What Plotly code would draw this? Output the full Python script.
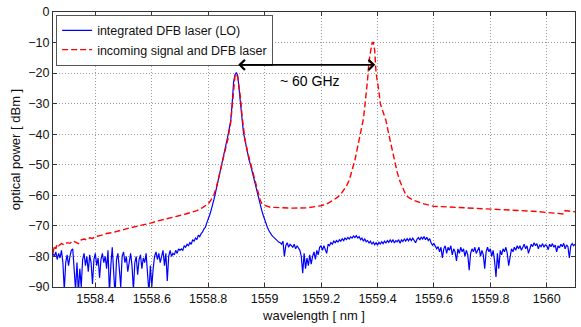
import numpy as np
import plotly.graph_objects as go

# ---------------- data ----------------
# Blue trace: integrated DFB laser (LO), sampled on a 0.005 nm grid from 1558.25 nm
blue_start_nm = 1558.25
blue_step_nm = 0.005
blue_dbm = [
    # 1558.250 - 1558.600
    -79, -80, -78.5, -81, -79, -80.5, -78, -82, -91, -82,
    -79.5, -83, -80, -78, -77.5, -86, -91, -82, -92, -84,
    -90, -81, -79, -83, -80, -85, -79.5, -82, -89, -81,
    -79, -83, -80.5, -87, -81, -79, -82, -80, -84, -78,
    -92, -83, -77, -85, -93, -81, -79, -84, -90, -80,
    -78.5, -82, -80, -85, -81, -79, -83, -91, -82, -80,
    -86, -81, -79.5, -84, -80.5, -82, -79, -85, -92, -83,
    -90,
    # 1558.605 - 1558.700
    -84, -80, -78.5, -81, -79, -82, -80, -78, -83, -79,
    -88, -80, -78, -80, -79, -79.5, -78, -79, -77.5, -78,
    # 1558.705 - 1558.895
    -77.5, -78, -76.5, -77, -76, -76.5, -75.5, -76, -74.5, -75,
    -74, -74.5, -73, -73.5, -72.5, -72, -71, -70.5, -69, -68,
    -66.5, -65, -63.5, -61.5, -59.5, -57.5, -55, -52.5, -50.5, -48.5,
    -47, -45.5, -43.5, -40.5, -38, -35.5, -30, -23, -20.5,
    # 1558.900 - 1559.050
    -19.8, -21, -25, -29, -35, -39.5, -42, -44, -46.5, -48.5,
    -50, -52, -53.5, -55, -57, -59.5, -61.5, -63, -65, -66.5,
    -68, -69.5, -70.5, -71.5, -72.5, -73, -73.5, -74, -74.5, -75,
    -75.3,
    # 1559.055 - 1559.245
    -75.5, -76, -75, -80, -76.5, -75.5, -77, -76, -76.5, -77,
    -76, -77.5, -76.5, -77.5, -78, -80, -85.5, -79, -84, -80.5,
    -83, -79.5, -82.5, -80, -78.5, -81, -78, -79.5, -77, -76.5,
    -78, -76.5, -77.5, -79, -76, -76.5, -75.5, -76, -75,
    # 1559.250 - 1559.600
    -75.5, -74.8, -75.3, -74.5, -75, -74.2, -74.8, -74, -74.5, -73.8,
    -74.3, -73.6, -74, -73.3, -73.8, -73.2, -74, -73.5, -74.5, -74,
    -75, -74.3, -75.2, -74.8, -75.6, -75, -76, -75.3, -76.2, -75.5,
    -76.3, -75.4, -75.9, -75.2, -75.8, -75, -75.6, -74.8, -75.4, -74.6,
    -75.3, -74.5, -75.6, -74.8, -75.2, -74.5, -75.7, -74.6, -75.1, -74.3,
    -75, -74.2, -74.9, -74.1, -74.8, -74, -74.7, -75.5, -74.4, -73.8,
    -74.6, -73.6, -74.3, -73.5, -74.5, -73.7, -74.8, -74.2, -75.5, -76.3,
    -75.8,
    # 1559.605 - 1559.900
    -76.5, -77.5, -76.8, -78.5, -77, -80.5, -77.5, -76.5, -79, -77,
    -78, -76.5, -79.5, -77.5, -78.5, -81.5, -77.5, -79, -77, -78.5,
    -77.5, -80, -78, -79.5, -84.5, -79, -77.5, -78.5, -77, -79,
    -78, -77, -80, -78, -79.5, -84, -78.5, -77, -78.5, -77.5,
    -80, -78, -81.5, -86.7, -79, -84, -78, -79.5, -77.5, -78.5,
    -77, -79, -83, -79.5, -77.5, -78.5, -77, -78, -76.5, -77.5,
    # 1559.905 - 1560.100
    -76.5, -78, -77, -76, -77.5, -76.5, -79, -77, -76, -76.8,
    -75.5, -76.5, -75.8, -77.5, -76.3, -76.8, -75.8, -77, -76.2, -76.5,
    -77.8, -76, -76.8, -75.8, -77, -76.3, -78.5, -76.5, -77.2, -76,
    -76.8, -75.7, -77.5, -76.2, -76.8, -80.5, -76.5, -75.8, -76.5, -76,
]

# Red trace: incoming signal and DFB laser (wavelength / power pairs)
red_nm = [
    1558.250, 1558.255, 1558.260, 1558.265, 1558.270, 1558.280, 1558.290, 1558.300,
    1558.310, 1558.320, 1558.330, 1558.340, 1558.350, 1558.360, 1558.370, 1558.380,
    1558.390, 1558.400, 1558.420, 1558.440, 1558.460, 1558.480, 1558.500, 1558.520,
    1558.540, 1558.560, 1558.580, 1558.600, 1558.620, 1558.640, 1558.660, 1558.680,
    1558.700, 1558.720, 1558.740, 1558.760, 1558.780, 1558.800, 1558.810, 1558.820,
    1558.830, 1558.840, 1558.850, 1558.860, 1558.870, 1558.880, 1558.885, 1558.890,
    1558.895, 1558.900, 1558.905, 1558.910, 1558.915, 1558.920, 1558.925, 1558.930,
    1558.940, 1558.950, 1558.960, 1558.970, 1558.980, 1558.985, 1558.990, 1559.000,
    1559.020, 1559.050, 1559.100, 1559.150, 1559.180, 1559.200, 1559.220, 1559.240,
    1559.260, 1559.270, 1559.280, 1559.290, 1559.300, 1559.310, 1559.320, 1559.330,
    1559.340, 1559.350, 1559.355, 1559.360, 1559.365, 1559.370, 1559.375, 1559.380,
    1559.385, 1559.390, 1559.395, 1559.400, 1559.405, 1559.410, 1559.420, 1559.430,
    1559.440, 1559.450, 1559.460, 1559.470, 1559.480, 1559.490, 1559.500, 1559.510,
    1559.530, 1559.560, 1559.600, 1559.650, 1559.700, 1559.750, 1559.800, 1559.850,
    1559.900, 1559.950, 1560.000, 1560.030, 1560.050, 1560.060, 1560.065, 1560.080,
    1560.100,
]
red_dbm = [
    -79, -76.5, -77.5, -76, -76.5, -75.8, -76.2, -75.5,
    -75.7, -74.9, -75.3, -75.8, -74.6, -74.3, -74.6, -73.9,
    -74.1, -73.5, -73.1, -72.5, -72.2, -71.6, -71.2, -70.7,
    -70.3, -69.9, -69.4, -69, -68.4, -68, -67.5, -67.1,
    -66.6, -66.1, -65.6, -65, -64, -62.8, -61.5, -60,
    -57, -53, -49, -45.8, -41.5, -36, -31, -24,
    -21, -20.2, -21.5, -25, -28.5, -34, -38.5, -41.5,
    -46, -49.5, -53, -56.5, -60.5, -61.8, -62.6, -63.3,
    -63.9, -64.1, -64.2, -64.1, -63.8, -63.4, -62.8, -61.8,
    -60.5, -59.6, -58.3, -57, -55, -52, -48.5, -44,
    -39, -35, -31, -27, -22, -16, -12.5, -10.5,
    -9.8, -12.5, -20, -22.5, -26, -30, -32.5, -35.5,
    -40, -44.5, -49, -52.5, -55.5, -58, -59.8, -60.7,
    -61.7, -62.7, -63.6, -63.8, -64, -64.2, -64.4, -64.7,
    -64.9, -65.2, -65.6, -65.9, -66.2, -66.1, -65, -65.1,
    -65.4,
]

lo_peak_nm = 1558.901
sig_peak_nm = 1559.392
arrow_dbm = -17.3
label_nm = 1559.162
label_dbm = -22.5
label_text = "~ 60 GHz"

x_ticks = [1558.4, 1558.6, 1558.8, 1559.0, 1559.2, 1559.4, 1559.6, 1559.8, 1560.0]
x_tick_text = ["1558.4", "1558.6", "1558.8", "1559", "1559.2", "1559.4", "1559.6", "1559.8", "1560"]
y_ticks = [0, -10, -20, -30, -40, -50, -60, -70, -80, -90]

blue_nm = np.round(blue_start_nm + blue_step_nm * np.arange(len(blue_dbm)), 4)

# ---------------- figure ----------------
FONT = "Liberation Sans, Arial, Helvetica, sans-serif"

fig = go.Figure()
fig.add_trace(go.Scatter(
    x=blue_nm, y=blue_dbm, mode="lines", name="integrated DFB laser (LO)",
    line=dict(color="#0000ff", width=1.2),
))
fig.add_trace(go.Scatter(
    x=red_nm, y=red_dbm, mode="lines", name="incoming signal and DFB laser",
    line=dict(color="#ff0000", width=1.4, dash="6px,3px"),
))

fig.add_annotation(
    x=sig_peak_nm, y=arrow_dbm, ax=lo_peak_nm, ay=arrow_dbm,
    xref="x", yref="y", axref="x", ayref="y",
    text="", showarrow=True, arrowside="end+start",
    arrowhead=4, startarrowhead=4, arrowsize=1.1, startarrowsize=1.1,
    arrowwidth=1.8, arrowcolor="#000000",
)
fig.add_annotation(
    x=label_nm, y=label_dbm, xref="x", yref="y", text=label_text,
    showarrow=False, font=dict(family=FONT, size=14, color="#000000"),
)

axis_common = dict(
    showline=True, linecolor="#333333", linewidth=1, mirror="allticks",
    ticks="inside", ticklen=4, tickcolor="#333333",
    showgrid=True, gridcolor="#9a9a9a", griddash="1px,2px", gridwidth=1,
    zeroline=False, tickfont=dict(family=FONT, size=12.5, color="#111111"),
)

fig.update_xaxes(
    range=[1558.25, 1560.1], tickvals=x_ticks, ticktext=x_tick_text,
    title=dict(text="wavelength [ nm ]", font=dict(family=FONT, size=13, color="#111111"), standoff=5),
    **axis_common,
)
fig.update_yaxes(
    range=[-90, 0], tickvals=y_ticks,
    title=dict(text="optical power [ dBm ]", font=dict(family=FONT, size=13, color="#111111"), standoff=4),
    **axis_common,
)

fig.update_layout(
    width=581, height=327,
    margin=dict(l=53, r=5, t=9, b=40),
    paper_bgcolor="white", plot_bgcolor="white",
    font=dict(family=FONT, size=12, color="#111111"),
    showlegend=True,
    legend=dict(
        x=0.006, y=0.99, xanchor="left", yanchor="top",
        bgcolor="white", bordercolor="#555555", borderwidth=1,
        font=dict(family=FONT, size=12.5, color="#111111"),
        itemwidth=30, tracegroupgap=0,
    ),
)

fig.write_html("out.html")
